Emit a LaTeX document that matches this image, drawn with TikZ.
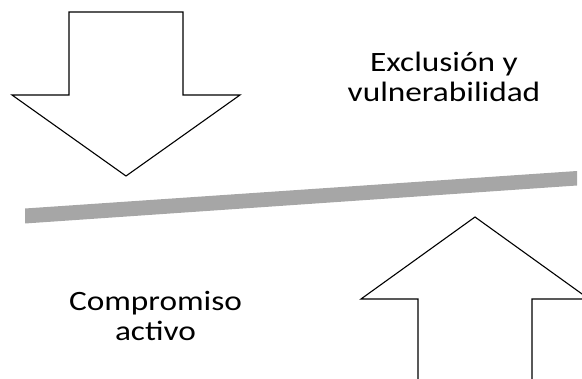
\documentclass[tikz,border=0pt]{standalone}
\usepackage{fontspec}
\setmainfont{Carlito}
\begin{document}
\begin{tikzpicture}[x=1pt,y=-1pt,
  arrowshape/.style={draw=black,line width=1.1pt,fill=white,line join=miter},
  lbl/.style={align=center,font=\fontsize{28}{30}\selectfont,inner sep=0pt,xscale=1.19}]
\definecolor{barfill}{HTML}{A6A6A6}
\useasboundingbox (0,0) rectangle (582,379);
\clip (0,0) rectangle (582,379);
% down arrow
\draw[arrowshape] (69,12) -- (183,12) -- (183,95) -- (240,95) -- (126,176) -- (12,95) -- (69,95) -- cycle;
% bar
\fill[barfill] (25,208.5) -- (577,171) -- (577,185.5) -- (25,223.5) -- cycle;
% up arrow
\draw[arrowshape] (418,390) -- (418,299) -- (361,299) -- (475,217) -- (589,299) -- (532,299) -- (532,390);
\node[lbl] (excl) at (444,77) {Exclusión y\\vulnerabilidad};
\node[lbl] (comp) at (155.5,316) {Compromiso\\activo};
\end{tikzpicture}
\end{document}
